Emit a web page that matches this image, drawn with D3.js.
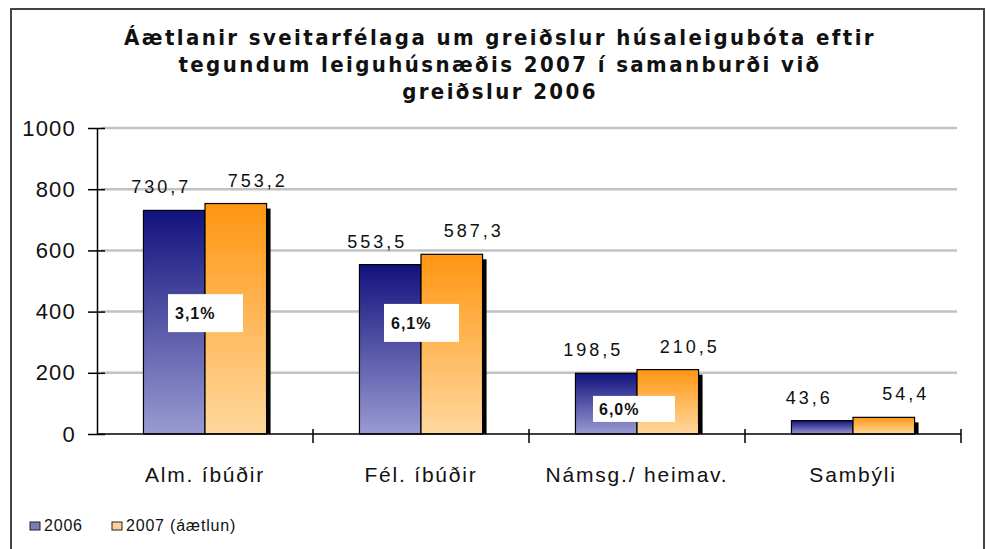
<!DOCTYPE html>
<html>
<head>
<meta charset="utf-8">
<script src="https://cdn.jsdelivr.net/npm/d3@7"></script>
<style>
	body { margin: 0; background: #fff; }
	text { font-family: "Liberation Sans", Arial, sans-serif; fill: #111; }
	.title { font-family: "DejaVu Sans Condensed", "DejaVu Sans", Verdana, sans-serif; font-weight: bold; font-size: 22px; letter-spacing: 2.4px; }
	.tick-label { font-size: 22px; letter-spacing: 1.2px; }
	.value-label { font-size: 18px; letter-spacing: 3px; }
	.cat-label { font-size: 21px; letter-spacing: 1.8px; }
	.pct-label { font-size: 16px; font-weight: bold; letter-spacing: 1px; }
	.legend-label { font-size: 16px; letter-spacing: 0.8px; }
</style>
</head>
<body>
<div id="graphic"></div>
<script>
// Chart data
const categories = ['Alm. íbúðir', 'Fél. íbúðir', 'Námsg./ heimav.', 'Sambýli'];
const series = ['2006', '2007 (áætlun)'];
const values2006 = [730.7, 553.5, 198.5, 43.6];
const values2007 = [753.2, 587.3, 210.5, 54.4];
const valueLabels2006 = ['730,7', '553,5', '198,5', '43,6'];
const valueLabels2007 = ['753,2', '587,3', '210,5', '54,4'];
const changeLabels = ['3,1%', '6,1%', '6,0%'];
const yTicks = [0, 200, 400, 600, 800, 1000];
const titleLines = [
	'Áætlanir sveitarfélaga um greiðslur húsaleigubóta eftir',
	'tegundum leiguhúsnæðis 2007 í samanburði við',
	'greiðslur 2006'
];

const W = 990, H = 549;
const margin = { top: 128, right: 29, bottom: 115, left: 97 };
const width = W - margin.left - margin.right;
const height = H - margin.top - margin.bottom;

const svgRoot = d3.select('#graphic').append('svg')
	.attr('width', W)
	.attr('height', H);

// gradients for the bars
const defs = svgRoot.append('defs');
function addGradient(id, top, bottom) {
	const g = defs.append('linearGradient')
		.attr('id', id)
		.attr('x1', 0).attr('y1', 0).attr('x2', 0).attr('y2', 1);
	g.append('stop').attr('offset', '0%').attr('stop-color', top);
	g.append('stop').attr('offset', '100%').attr('stop-color', bottom);
}
addGradient('gradBlue', '#12127e', '#9a9ad2');
addGradient('gradOrange', '#ff9612', '#ffd89e');

// outer frame
svgRoot.append('rect')
	.attr('x', 11).attr('y', 9)
	.attr('width', 973).attr('height', H + 10)
	.attr('fill', '#fff')
	.attr('stroke', '#444')
	.attr('stroke-width', 2);

// title
svgRoot.append('g')
	.selectAll('text')
	.data(titleLines)
	.join('text')
	.attr('class', 'title')
	.attr('x', 500)
	.attr('y', (d, i) => 45 + i * 27)
	.attr('text-anchor', 'middle')
	.text((d) => d);

const svg = svgRoot.append('g')
	.attr('transform', `translate(${margin.left},${margin.top})`);

const x0 = d3.scaleBand()
	.domain(categories)
	.range([0, width])
	.paddingInner(0.43)
	.paddingOuter(0.215);

const x1 = d3.scaleBand()
	.domain(series)
	.range([0, x0.bandwidth()]);

const y = d3.scaleLinear()
	.domain([0, 1000])
	.range([height, 0]);

// grid lines
svg.append('g')
	.attr('class', 'grid')
	.selectAll('line')
	.data(yTicks.filter((d) => d > 0))
	.join('line')
	.attr('x1', 4)
	.attr('x2', width - 4)
	.attr('y1', (d) => y(d))
	.attr('y2', (d) => y(d))
	.attr('stroke', '#c2c2c2')
	.attr('stroke-width', 2.5);

const rows = categories.map((c, i) => ({
	category: c,
	v2006: values2006[i],
	v2007: values2007[i],
	l2006: valueLabels2006[i],
	l2007: valueLabels2007[i]
}));

const groups = svg.selectAll('g.cat')
	.data(rows)
	.join('g')
	.attr('class', 'cat')
	.attr('transform', (d) => `translate(${x0(d.category)},0)`);

// shadow behind the 2007 bar
groups.append('rect')
	.attr('x', x1(series[1]) + 4)
	.attr('y', (d) => y(d.v2007) + 5)
	.attr('width', x1.bandwidth())
	.attr('height', (d) => height - y(d.v2007) - 5)
	.attr('fill', '#000');

groups.append('rect')
	.attr('x', x1(series[0]))
	.attr('y', (d) => y(d.v2006))
	.attr('width', x1.bandwidth())
	.attr('height', (d) => height - y(d.v2006))
	.attr('fill', 'url(#gradBlue)')
	.attr('stroke', '#000')
	.attr('stroke-width', 1.2);

groups.append('rect')
	.attr('x', x1(series[1]))
	.attr('y', (d) => y(d.v2007))
	.attr('width', x1.bandwidth())
	.attr('height', (d) => height - y(d.v2007))
	.attr('fill', 'url(#gradOrange)')
	.attr('stroke', '#000')
	.attr('stroke-width', 1.2);

// value labels
groups.append('text')
	.attr('class', 'value-label')
	.attr('x', x1(series[0]) + x1.bandwidth() / 2 - 13)
	.attr('y', (d) => y(d.v2006) - 17)
	.attr('text-anchor', 'middle')
	.text((d) => d.l2006);

groups.append('text')
	.attr('class', 'value-label')
	.attr('x', x1(series[1]) + x1.bandwidth() / 2 + 22)
	.attr('y', (d) => y(d.v2007) - 17)
	.attr('text-anchor', 'middle')
	.text((d) => d.l2007);

// change boxes (text boxes placed by hand in the original, anchored in value units)
const changeBoxAt = [395, 363, 82];
const changeBoxes = changeLabels.map((label, i) => ({
	label: label,
	category: categories[i],
	at: changeBoxAt[i],
	small: i === 2
}));

const pct = svg.selectAll('g.pct')
	.data(changeBoxes)
	.join('g')
	.attr('class', 'pct')
	.attr('transform', (d) => `translate(${x0(d.category) + x1(series[1])},${y(d.at)})`);

pct.append('rect')
	.attr('x', (d) => d.small ? -44 : -37)
	.attr('y', (d) => d.small ? -13 : -19)
	.attr('width', (d) => d.small ? 82 : 75)
	.attr('height', (d) => d.small ? 26 : 38)
	.attr('fill', '#fff');

pct.append('text')
	.attr('class', 'pct-label')
	.attr('x', (d) => d.small ? -38 : -30)
	.attr('y', 6)
	.text((d) => d.label);

// y axis
svg.append('g')
	.attr('class', 'y axis')
	.call(d3.axisLeft(y).tickValues(yTicks).tickSize(0).tickPadding(21).tickFormat(d3.format('d')))
	.call((g) => g.select('.domain').attr('stroke', '#000').attr('stroke-width', 1.5))
	.call((g) => g.selectAll('.tick text').attr('class', 'tick-label').attr('fill', '#111'))
	.call((g) => g.selectAll('.tick').append('line')
		.attr('x1', -9).attr('x2', 8)
		.attr('stroke', '#000').attr('stroke-width', 1.5));

// x axis
svg.append('line')
	.attr('x1', 0).attr('x2', width)
	.attr('y1', height).attr('y2', height)
	.attr('stroke', '#000')
	.attr('stroke-width', 1.5);

const boundaries = d3.range(categories.length + 1).map((i) => i * width / categories.length);
svg.append('g')
	.selectAll('line')
	.data(boundaries.slice(1))
	.join('line')
	.attr('x1', (d) => d).attr('x2', (d) => d)
	.attr('y1', height - 5).attr('y2', height + 9)
	.attr('stroke', '#000')
	.attr('stroke-width', 1.5);

svg.append('g')
	.selectAll('text')
	.data(categories)
	.join('text')
	.attr('class', 'cat-label')
	.attr('x', (d) => x0(d) + x0.bandwidth() / 2)
	.attr('y', height + 48)
	.attr('text-anchor', 'middle')
	.text((d) => d);

// legend
const legend = svgRoot.append('g')
	.attr('transform', 'translate(30,531)');

const legendItems = [
	{ label: series[0], fill: '#7b7bb5', offset: 0 },
	{ label: series[1], fill: '#ffcf99', offset: 82 }
];

legend.selectAll('rect')
	.data(legendItems)
	.join('rect')
	.attr('x', (d) => d.offset)
	.attr('y', -9)
	.attr('width', 10)
	.attr('height', 8)
	.attr('fill', (d) => d.fill)
	.attr('stroke', '#222')
	.attr('stroke-width', 1);

legend.selectAll('text')
	.data(legendItems)
	.join('text')
	.attr('class', 'legend-label')
	.attr('x', (d) => d.offset + 14)
	.attr('y', 0)
	.text((d) => d.label);
</script>
</body>
</html>
